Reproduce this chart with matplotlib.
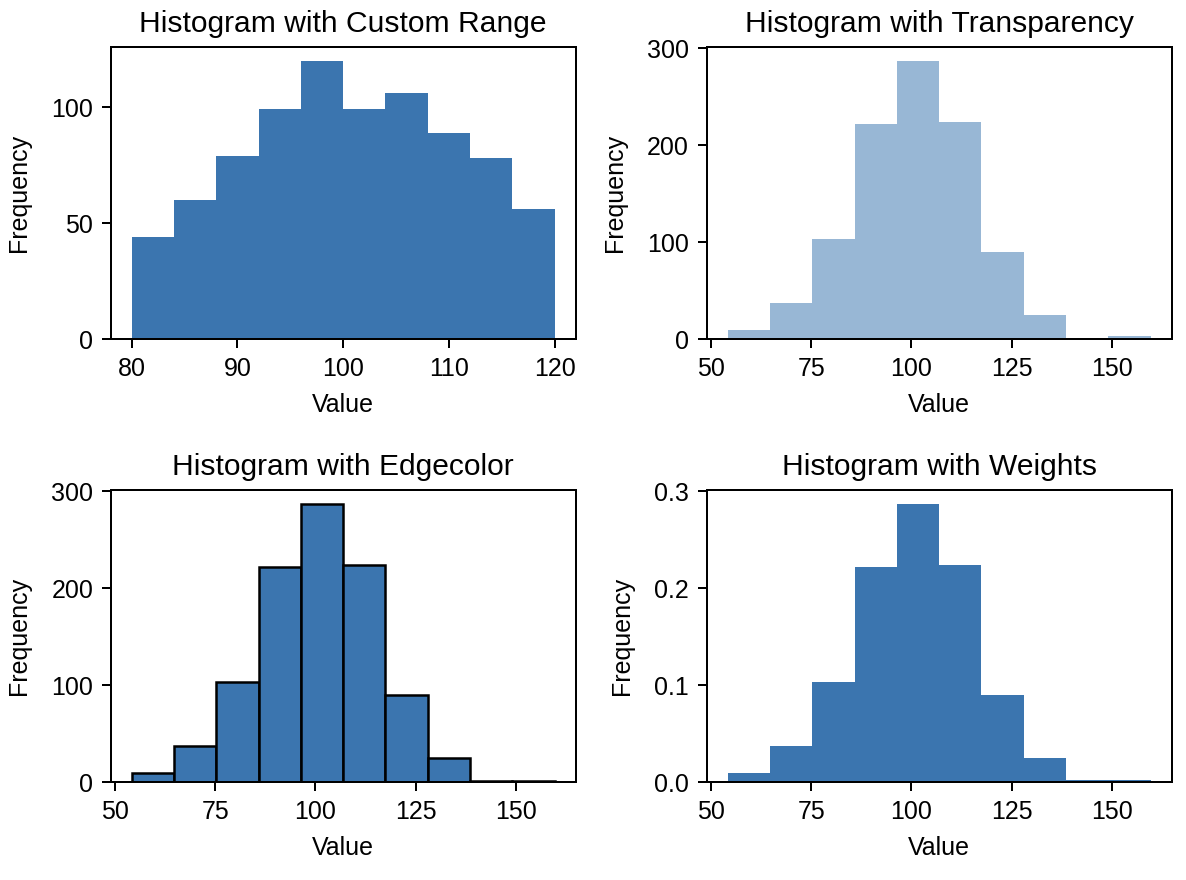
import matplotlib
matplotlib.use("Agg")
import matplotlib.pyplot as plt
import numpy as np

plt.rcParams['font.family'] = ['Liberation Sans', 'DejaVu Sans']

# bin counts
n_bins = 10
custom_range = (80, 120)
custom_counts = [44, 60, 79, 99, 120, 99, 106, 89, 78, 56]

normal_range = (54.2, 159.6)
normal_counts = [10, 37, 103, 222, 287, 224, 90, 25, 0, 3]
edge_counts = [10, 37, 103, 222, 287, 224, 90, 25, 1.5, 1.5]
weight_values = [0.010, 0.037, 0.103, 0.222, 0.287, 0.224, 0.090, 0.025, 0.0025, 0.0025]

custom_xticks = [80, 90, 100, 110, 120]
custom_yticks = [0, 50, 100]
normal_xticks = [50, 75, 100, 125, 150]
count_yticks = [0, 100, 200, 300]
weight_yticks = [0.0, 0.1, 0.2, 0.3]

bar_color = '#3b75af'


def bin_mids(lo_hi):
    edges = np.histogram_bin_edges([], bins=n_bins, range=lo_hi)
    return (edges[:-1] + edges[1:]) / 2


fig = plt.figure(figsize=(1186 / 180, 880 / 180), dpi=180)
ax1 = fig.add_axes([0.0933, 0.6144, 0.3921, 0.3325])
ax2 = fig.add_axes([0.5958, 0.6144, 0.3921, 0.3325])
ax3 = fig.add_axes([0.0933, 0.1110, 0.3921, 0.3322])
ax4 = fig.add_axes([0.5958, 0.1110, 0.3921, 0.3322])

ax1.hist(bin_mids(custom_range), bins=n_bins, range=custom_range,
         weights=custom_counts, color=bar_color)
ax1.set_title("Histogram with Custom Range")
ax1.set_xticks(custom_xticks)
ax1.set_yticks(custom_yticks)

ax2.hist(bin_mids(normal_range), bins=n_bins, range=normal_range,
         weights=normal_counts, color=bar_color, alpha=0.52)
ax2.set_title("Histogram with Transparency")
ax2.set_xticks(normal_xticks)
ax2.set_yticks(count_yticks)

ax3.hist(bin_mids(normal_range), bins=n_bins, range=normal_range,
         weights=edge_counts, color=bar_color, edgecolor="black")
ax3.set_title("Histogram with Edgecolor")
ax3.set_xticks(normal_xticks)
ax3.set_yticks(count_yticks)

ax4.hist(bin_mids(normal_range), bins=n_bins, range=normal_range,
         weights=weight_values, color=bar_color)
ax4.set_title("Histogram with Weights")
ax4.set_xticks(normal_xticks)
ax4.set_yticks(weight_yticks)

for ax in [ax1, ax2, ax3, ax4]:
    ax.set_xlabel("Value", labelpad=5)
    ax.set_ylabel("Frequency", labelpad=8)

fig.savefig("out.png", dpi=180)
